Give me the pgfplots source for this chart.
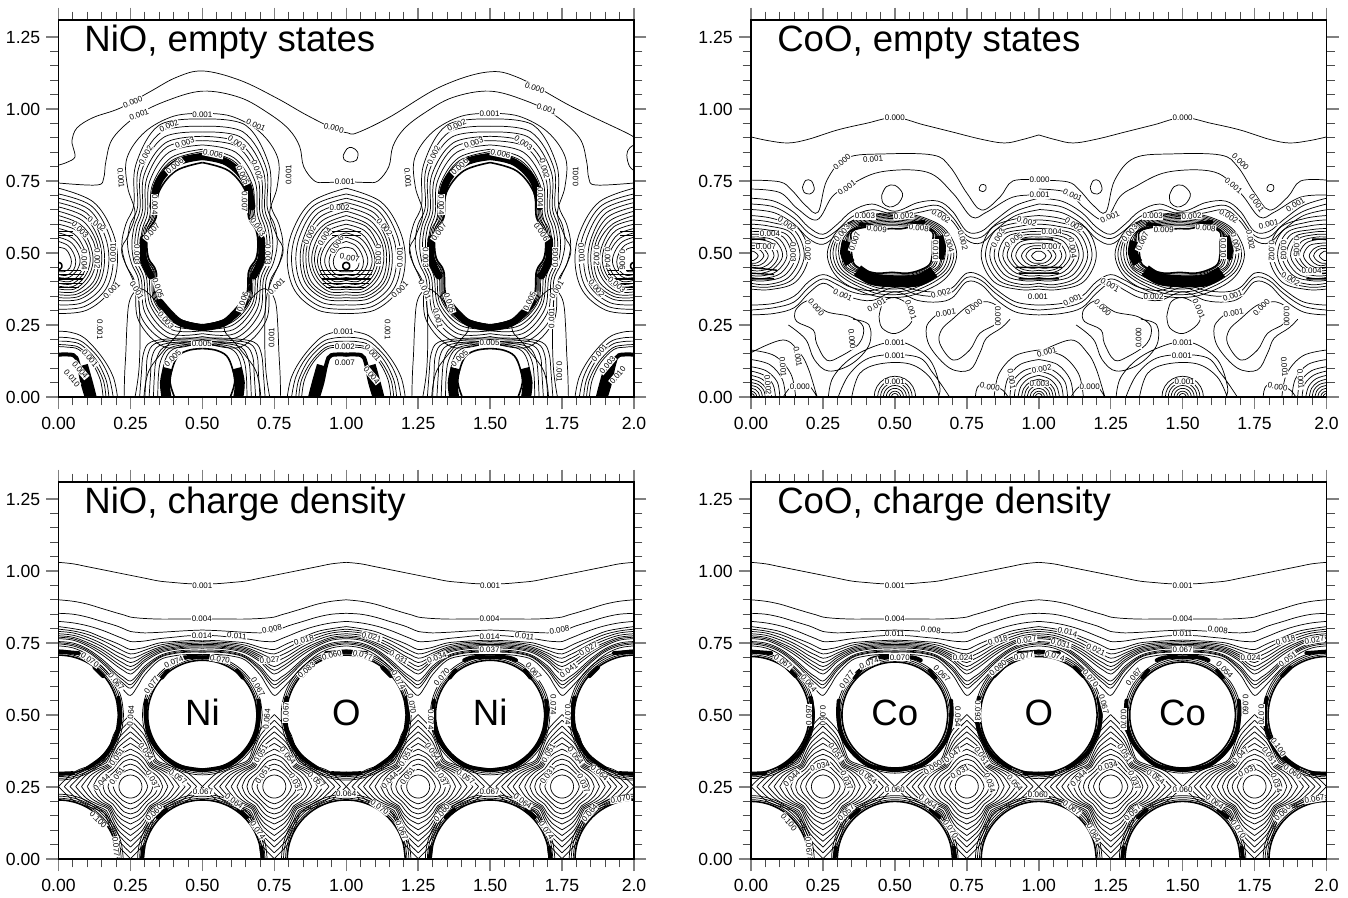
\documentclass[border=0pt]{standalone}
\usepackage{pgfplots}
\usepackage{pgfplotstable}
\usepackage{fontspec}
\setmainfont{Liberation Sans}
\pgfplotsset{compat=1.18}
\pgfplotsset{unbounded coords=jump}
% ---------------- shared tables
\pgfplotstableread{
c s
1 0
0.966 0.259
0.866 0.5
0.707 0.707
0.5 0.866
0.259 0.966
0 1
-0.259 0.966
-0.5 0.866
-0.707 0.707
-0.866 0.5
-0.966 0.259
-1 0
-0.966 -0.259
-0.866 -0.5
-0.707 -0.707
-0.5 -0.866
-0.259 -0.966
0 -1
0.259 -0.966
0.5 -0.866
0.707 -0.707
0.866 -0.5
0.966 -0.259
1 0
}\tU
% charge density: wave lines
\pgfplotstableread{
x w1 w2 w3 w4 w5 w6 w7 w8 w9 w10 w11 w12 w13 w14 w15
0 1.03 0.90 0.853 0.825 0.807 0.79 0.775 0.765 0.755 0.747 0.74 0.798 0.77 0.751 0.782
0.05 1.025 0.895 0.85 0.82 0.80 0.785 0.77 0.76 0.75 0.74 0.733 0.792 0.765 0.745 0.777
0.1 1.015 0.885 0.84 0.81 0.79 0.77 0.752 0.74 0.73 0.72 0.71 0.78 0.746 0.725 0.761
0.15 1.005 0.87 0.825 0.795 0.77 0.748 0.728 0.71 0.695 0.682 0.668 0.76 0.719 0.688 0.738
0.2 0.995 0.855 0.81 0.775 0.75 0.72 0.695 0.672 0.65 0.632 0.615 0.735 0.683 0.641 0.707
0.225 0.99 0.848 0.80 0.765 0.738 0.708 0.68 0.655 0.632 0.61 0.588 0.722 0.667 0.621 0.694
0.25 0.985 0.84 0.79 0.755 0.727 0.697 0.668 0.642 0.618 0.593 0.568 0.712 0.655 0.605 0.682
0.275 0.98 0.837 0.787 0.755 0.73 0.703 0.68 0.66 0.64 0.62 0.60 0.716 0.67 0.63 0.691
0.3 0.975 0.835 0.785 0.757 0.735 0.715 0.70 0.685 0.67 0.655 0.64 0.725 0.692 0.662 0.707
0.35 0.965 0.833 0.787 0.765 0.75 0.735 0.725 0.715 0.705 0.698 0.69 0.742 0.72 0.701 0.73
0.4 0.96 0.833 0.79 0.77 0.755 0.745 0.735 0.727 0.72 0.713 0.705 0.75 0.731 0.716 0.74
0.45 0.956 0.833 0.793 0.775 0.758 0.748 0.74 0.732 0.725 0.718 0.71 0.753 0.736 0.721 0.744
0.5 0.955 0.833 0.795 0.777 0.76 0.75 0.74 0.732 0.725 0.718 0.71 0.755 0.736 0.721 0.745
}\tW
% charge density: diamonds, one quadrant
\pgfplotstableread{
a r1 r2 r3 r4 r5 r6 r7 r8 r9 r10 r11 r12
0 0.04 0.06 0.078 0.095 0.112 0.13 0.15 0.17 0.19 0.21 0.23 0.25
15 0.04 0.057 0.074 0.09 0.104 0.118 0.132 0.145 0.158 0.17 0.185 0.20
30 0.04 0.055 0.068 0.08 0.093 0.105 0.113 0.12 0.127 0.135 0.142 0.15
45 0.04 0.054 0.066 0.076 0.086 0.095 0.10 0.105 0.11 0.118 0.124 0.13
60 0.04 0.055 0.068 0.08 0.093 0.105 0.113 0.12 0.127 0.135 0.142 0.15
75 0.04 0.057 0.074 0.09 0.104 0.118 0.132 0.145 0.158 0.17 0.185 0.20
90 0.04 0.06 0.078 0.095 0.112 0.13 0.15 0.17 0.19 0.21 0.23 0.25
}\tD
% bands in charge density panels (dx y about an atom column)
\pgfplotstableread{
x y
0 0.72
0.07 0.715
nan nan
0.125 0.665
0.155 0.635
nan nan
0.208 0.56
0.215 0.5
0.205 0.44
0.165 0.365
0.10 0.315
nan nan
0 0.296
0.05 0.298
}\tBO
\pgfplotstableread{
x y
0 0.70
0.06 0.70
0.09 0.69
nan nan
0.12 0.655
0.14 0.63
nan nan
0.195 0.55
0.197 0.5
0.185 0.43
0.15 0.375
0.09 0.325
0 0.308
}\tBM
\pgfplotstableread{
x y
0.21 0
0.205 0.04
nan nan
0.155 0.145
0.125 0.17
}\tBF
% -------- NiO empty
\pgfplotstableread{
a r1 r2 r3 r4 r5 r6 r7 r8 r9 r10 r11
-90 0.34 0.33 0.32 0.31 0.30 0.295 0.29 0.285 0.28 0.287 0.283
-70 0.38 0.36 0.345 0.33 0.315 0.30 0.29 0.28 0.27 0.285 0.275
-50 0.345 0.33 0.31 0.295 0.28 0.27 0.26 0.25 0.24 0.255 0.245
-30 0.27 0.255 0.245 0.235 0.225 0.215 0.205 0.195 0.188 0.20 0.192
-15 0.275 0.255 0.245 0.235 0.225 0.215 0.205 0.20 0.195 0.208 0.20
0 0.28 0.26 0.245 0.235 0.225 0.215 0.205 0.20 0.195 0.21 0.20
15 0.275 0.26 0.245 0.235 0.225 0.215 0.205 0.20 0.195 0.21 0.20
30 0.275 0.26 0.25 0.24 0.23 0.22 0.21 0.20 0.19 0.205 0.195
50 0.36 0.345 0.33 0.315 0.30 0.285 0.27 0.26 0.245 0.265 0.252
70 0.44 0.415 0.395 0.375 0.36 0.34 0.32 0.30 0.285 0.31 0.295
90 0.435 0.41 0.39 0.375 0.36 0.345 0.33 0.315 0.30 0.322 0.308
}\tNiA
\pgfplotstableread{
a r1
-90 0.281
-70 0.271
-50 0.236
-30 0.186
-15 0.193
0 0.193
15 0.193
30 0.186
50 0.236
70 0.271
90 0.284
}\tNiAh
\pgfplotstableread{
a r1 r2 r3 r4 r5 r6 r7 r8 r9 r10 r11 r12 r13 r14
-90 0.18 0.165 0.15 0.135 0.125 0.115 0.105 0.095 0.085 0.075 0.065 0.055 0.045 0.035
-60 0.195 0.18 0.165 0.15 0.14 0.13 0.12 0.11 0.10 0.09 0.08 0.065 0.055 0.04
-30 0.205 0.19 0.175 0.16 0.15 0.14 0.125 0.115 0.105 0.095 0.085 0.07 0.06 0.045
0 0.205 0.19 0.175 0.16 0.15 0.14 0.13 0.12 0.11 0.10 0.09 0.075 0.06 0.045
30 0.215 0.20 0.185 0.17 0.16 0.15 0.14 0.125 0.115 0.10 0.09 0.075 0.06 0.045
60 0.24 0.225 0.21 0.195 0.18 0.165 0.15 0.14 0.125 0.11 0.095 0.08 0.065 0.05
90 0.255 0.235 0.22 0.205 0.19 0.175 0.16 0.145 0.13 0.115 0.10 0.085 0.07 0.05
}\tOA
\pgfplotstableread{
x y
0 0.44
0.09 0.44
nan nan
0 0.425
0.09 0.425
nan nan
0 0.41
0.085 0.41
nan nan
0 0.395
0.08 0.395
nan nan
0 0.38
0.07 0.38
nan nan
0 0.575
0.05 0.575
nan nan
0 0.56
0.05 0.56
}\tHatA
\pgfplotstableread{
x y
0.234 0
0.22 0.1
0.217 0.25
0.228 0.37
0.28 0.5
0.258 0.56
0.234 0.639
0.26 0.73
0.262 0.83
0.2 0.92
0.1 0.975
0 0.985
nan nan
0.218 0
0.212 0.08
0.205 0.15
0.18 0.19
0.1 0.203
0 0.205
nan nan
0.20 0
0.195 0.08
0.19 0.145
0.165 0.185
0.09 0.197
0 0.198
nan nan
0.185 0
0.18 0.08
0.175 0.14
0.15 0.178
0.08 0.191
0 0.192
nan nan
0.17 0
0.167 0.07
0.16 0.13
0.135 0.172
0.075 0.186
0 0.188
nan nan
0.155 0
0.153 0.07
0.145 0.125
0.12 0.166
0.07 0.181
0 0.184
nan nan
0.14 0
0.14 0.06
0.132 0.12
0.11 0.16
0.065 0.177
0 0.18
}\tSA
\pgfplotstableread{
x y
0.097 0
0.112 0.05
0.104 0.10
0.084 0.143
0.045 0.163
0 0.168
}\tHA
\pgfplotstableread{
x y
0 0.835
0.085 0.815
0.15 0.75
0.172 0.66
nan nan
0.205 0.55
0.205 0.48
0.178 0.42
nan nan
0.148 0.33
0.08 0.26
0 0.241
}\tBandA
\pgfplotstableread{
x y
0.125 0
0.13 0.05
0.12 0.10
}\tFootA
\pgfplotstableread{
x y
0.272 0
0.27 0.08
0.266 0.153
0.262 0.25
0.255 0.326
0.235 0.365
0.203 0.372
0.14 0.31
0.075 0.243
0.12 0.18
0.179 0.104
0.197 0.05
0.203 0
}\tLensA
\pgfplotstableread{
x y
0.205 0
0.19 0.07
0.15 0.14
0.09 0.205
0.04 0.225
0 0.228
nan nan
0.19 0
0.175 0.07
0.14 0.135
0.085 0.19
0.04 0.205
0 0.207
nan nan
0.175 0
0.165 0.06
0.13 0.13
0.08 0.18
0.04 0.192
0 0.194
nan nan
0.165 0
0.155 0.06
0.122 0.122
0.075 0.17
0.035 0.18
0 0.182
nan nan
0.155 0
0.145 0.06
0.115 0.12
0.07 0.165
0.03 0.173
0 0.175
}\tOBotA
\pgfplotstableread{
x y
0.098 0
0.083 0.05
0.068 0.118
0.052 0.145
0 0.147
}\tOHoleA
\pgfplotstableread{
x y
0.115 0
0.102 0.05
0.085 0.11
}\tOFootA
\pgfplotstableread{
x y
0.0 0.743
0.133 0.736
0.157 0.76
0.165 0.82
0.19 0.90
0.276 0.979
0.38 1.03
0.502 1.062
0.63 1.04
0.73 0.985
0.80 0.93
0.838 0.87
0.852 0.80
0.89 0.75
0.93 0.745
1.0 0.748
}\tTopA
\pgfplotstableread{
x y
0 0.805
0.03 0.815
0.057 0.833
0.05 0.87
0.047 0.892
0.064 0.934
0.12 0.97
0.214 1.003
0.318 1.06
0.41 1.11
0.502 1.132
0.63 1.10
0.758 1.038
0.86 0.98
0.96 0.93
1.005 0.917
1.037 0.917
1.151 0.972
1.325 1.076
1.488 1.128
1.6 1.108
1.786 1.007
1.974 0.917
2 0.90
nan nan
0.99 0.84
1.003 0.862
1.02 0.866
1.04 0.85
1.035 0.822
1.01 0.816
0.992 0.825
0.99 0.84
nan nan
2.01 0.88
1.985 0.865
1.975 0.84
1.985 0.80
2.01 0.78
}\tZeroA
% -------- CoO empty
\pgfplotstableread{
x t1 t2 t3 b1 b2 b3
0 0.69 0.67 0.651 0.285 0.302 0.319
0.08 0.68 0.66 0.64 0.29 0.31 0.325
0.15 0.64 0.62 0.60 0.31 0.33 0.35
0.2 0.59 0.57 0.55 0.36 0.38 0.40
0.25 0.565 0.55 0.53 0.395 0.41 0.425
0.3 0.60 0.58 0.565 0.37 0.39 0.405
0.35 0.645 0.625 0.61 0.345 0.365 0.38
0.42 0.67 0.65 0.635 0.335 0.355 0.37
0.5 0.645 0.635 0.625 0.365 0.38 0.39
0.58 0.675 0.655 0.64 0.335 0.355 0.37
0.65 0.68 0.665 0.65 0.33 0.35 0.365
0.7 0.645 0.625 0.61 0.345 0.365 0.38
0.75 0.575 0.56 0.545 0.40 0.415 0.43
0.8 0.575 0.555 0.535 0.39 0.405 0.42
0.85 0.615 0.60 0.58 0.34 0.36 0.375
0.92 0.665 0.645 0.63 0.295 0.315 0.33
1 0.69 0.67 0.65 0.285 0.302 0.319
}\tWB
\pgfplotstableread{
a r1 r2 r3 r4 r5 r6 r7 r8 r9 r10
-90 0.15 0.14 0.13 0.12 0.11 0.10 0.09 0.08 0.075 0.068
-70 0.155 0.145 0.135 0.125 0.115 0.105 0.095 0.085 0.08 0.072
-50 0.168 0.155 0.145 0.135 0.125 0.115 0.108 0.10 0.095 0.09
-30 0.195 0.18 0.17 0.16 0.15 0.14 0.13 0.125 0.12 0.115
-15 0.215 0.205 0.195 0.185 0.175 0.17 0.165 0.155 0.148 0.14
0 0.225 0.215 0.205 0.195 0.185 0.175 0.17 0.16 0.155 0.15
15 0.215 0.207 0.20 0.193 0.186 0.179 0.172 0.165 0.16 0.155
30 0.198 0.192 0.186 0.18 0.174 0.168 0.165 0.165 0.165 0.165
50 0.168 0.163 0.158 0.153 0.148 0.143 0.138 0.133 0.128 0.128
70 0.15 0.145 0.14 0.135 0.13 0.125 0.12 0.115 0.11 0.105
90 0.145 0.14 0.135 0.13 0.125 0.12 0.115 0.11 0.105 0.10
}\tCoB
\pgfplotstableread{
a r1
-90 0.062
-70 0.068
-50 0.085
-30 0.11
-15 0.135
0 0.14
15 0.145
30 0.16
50 0.125
70 0.095
90 0.09
}\tCoBh
\pgfplotstableread{
a r1 r2 r3 r4 r5 r6 r7 r8 r9 r10 r11 r12
-90 0.115 0.105 0.095 0.085 0.075 0.068 0.06 0.05 0.04 0.03 0.025 0.016
-60 0.135 0.125 0.115 0.10 0.09 0.08 0.07 0.06 0.05 0.04 0.03 0.018
-30 0.18 0.165 0.15 0.135 0.12 0.105 0.09 0.08 0.065 0.05 0.036 0.02
0 0.20 0.185 0.17 0.155 0.14 0.125 0.11 0.095 0.08 0.06 0.045 0.025
30 0.19 0.175 0.16 0.145 0.13 0.115 0.10 0.085 0.07 0.05 0.038 0.02
60 0.15 0.135 0.12 0.105 0.095 0.085 0.075 0.065 0.05 0.04 0.03 0.018
90 0.14 0.125 0.11 0.095 0.085 0.075 0.065 0.055 0.045 0.035 0.025 0.016
}\tOB
\pgfplotstableread{
a r1 r2 r3 r4 r5 r6 r7 r8 r9 r10 r11
0 0.155 0.12 0.10 0.085 0.072 0.06 0.05 0.04 0.03 0.02 0.012
30 0.16 0.125 0.105 0.088 0.072 0.06 0.05 0.04 0.03 0.02 0.012
60 0.165 0.13 0.105 0.088 0.073 0.06 0.05 0.04 0.03 0.02 0.012
90 0.163 0.13 0.105 0.09 0.075 0.062 0.05 0.04 0.03 0.02 0.012
}\tCB
\pgfplotstableread{
x y
0 0.903
0.06 0.89
0.13 0.882
0.2 0.895
0.3 0.927
0.4 0.95
0.5 0.97
0.6 0.945
0.7 0.92
0.8 0.895
0.88 0.882
0.94 0.893
1 0.91
}\tZB
\pgfplotstableread{
x y
0 0.753
0.1 0.747
0.14 0.72
0.19 0.665
0.233 0.642
0.264 0.753
0.333 0.83
0.465 0.844
0.632 0.84
0.691 0.80
0.75 0.708
0.802 0.649
0.865 0.694
0.91 0.75
1.0 0.753
nan nan
0 0.722
0.1 0.71
0.16 0.655
0.229 0.615
0.281 0.694
0.333 0.729
0.448 0.781
0.611 0.781
0.701 0.708
0.767 0.625
0.819 0.642
0.91 0.694
1.0 0.701
nan nan
0.454 0.70
0.47 0.73
0.50 0.735
0.527 0.705
0.51 0.67
0.48 0.66
0.458 0.675
0.454 0.70
nan nan
0.179 0.728
0.19 0.752
0.21 0.75
0.22 0.72
0.205 0.705
0.185 0.71
0.179 0.728
nan nan
0.793 0.725
0.80 0.737
0.815 0.735
0.816 0.72
0.805 0.713
0.795 0.717
0.793 0.725
nan nan
0.17 0.319
0.205 0.334
0.263 0.296
0.344 0.279
0.39 0.244
0.376 0.186
0.309 0.14
0.263 0.128
0.228 0.186
0.216 0.233
0.159 0.262
0.153 0.296
0.17 0.319
nan nan
0.818 0.331
0.76 0.319
0.70 0.27
0.662 0.233
0.656 0.186
0.703 0.128
0.76 0.163
0.795 0.221
0.853 0.256
0.865 0.302
0.841 0.325
0.818 0.331
nan nan
0.445 0.28
0.455 0.24
0.5 0.22
0.55 0.25
0.565 0.29
0.55 0.32
0.5 0.345
0.46 0.33
0.445 0.28
nan nan
0.269 0
0.286 0.07
0.355 0.14
0.46 0.186
0.54 0.186
0.622 0.128
0.656 0.036
0.65 0
nan nan
0.303 0
0.344 0.082
0.425 0.14
0.575 0.14
0.633 0.082
0.69 0
nan nan
0.35 0
0.378 0.082
0.448 0.115
0.55 0.115
0.62 0.07
0.655 0
nan nan
0.645 0.285
0.61 0.244
0.622 0.175
0.691 0.10
0.76 0.094
0.795 0.152
0.818 0.204
0.87 0.24
0.90 0.27
nan nan
0.355 0.27
0.41 0.25
0.41 0.18
0.35 0.115
0.27 0.09
0.22 0.13
0.19 0.20
0.13 0.25
nan nan
0 0.154
0.112 0.198
0.17 0.152
0.199 0.099
0.226 0.013
0.23 0
nan nan
0.112 0
0.141 0.036
0.193 0.045
0.222 0.013
0.228 0
nan nan
0.78 0
0.795 0.042
0.865 0.03
0.893 0
}\tLB
\pgfplotstableread{
x y
0.37 0.44
0.42 0.41
0.49 0.402
0.58 0.405
0.635 0.435
}\tBandBa
\pgfplotstableread{
x y
0.335 0.54
0.327 0.50
0.345 0.465
nan nan
0.655 0.56
0.66 0.52
0.652 0.48
}\tBandBb
\pgfplotstableread{
x y
0.38 0.60
0.42 0.595
nan nan
0.55 0.60
0.60 0.608
}\tBandB
\pgfplotstableread{
x y
0 0.548
0.05 0.548
nan nan
0 0.45
0.09 0.44
nan nan
0 0.43
0.08 0.425
nan nan
0 0.41
0.08 0.41
nan nan
0.93 0.548
1.05 0.548
nan nan
0.92 0.45
1.08 0.45
nan nan
0.93 0.43
1.07 0.43
nan nan
0.93 0.41
1.07 0.41
nan nan
1.95 0.548
2 0.548
nan nan
1.92 0.44
2 0.45
nan nan
1.93 0.425
2 0.43
nan nan
1.93 0.41
2 0.41
}\tHatB
% ---------------- styles and helpers
\pgfplotsset{
 pan/.style={scale only axis,width=287.75pt,height=188.5pt,
  anchor=south west,xmin=0,xmax=2,ymin=0,ymax=1.309,
  axis on top,
  xtick={0,0.25,0.5,0.75,1,1.25,1.5,1.75,2},ytick={0,0.25,0.5,0.75,1,1.25},
  xticklabels={0.00,0.25,0.50,0.75,1.00,1.25,1.50,1.75,2.0},
  yticklabels={0.00,0.25,0.50,0.75,1.00,1.25},
  minor tick num=4,tick align=outside,
  major tick length=6.2pt,minor tick length=4.2pt,
  every major tick/.append style={line width=0.75pt},
  every minor tick/.append style={line width=0.4pt,black!70},
  axis line style={line width=0.55pt},
  ticklabel style={font=\fontsize{8.8}{10}\selectfont},
  xticklabel shift=0.6pt,yticklabel shift=-0.6pt,
 },
 c/.style={black,line width=0.36pt,smooth,tension=0.6},
 h/.style={black,line width=0.8pt,smooth,tension=0.6},
 band/.style={black,line width=2pt,smooth,tension=0.6,line cap=round},
 bandA/.style={black,line width=3.6pt,smooth,tension=0.6,line cap=round},
 foot/.style={black,line width=5pt,smooth,tension=0.6},
 hatch/.style={black,line width=0.7pt},
}
\tikzset{lb/.style={fill=white,inner sep=0.3pt,font=\fontsize{4}{4}\selectfont,text=black},
 ttl/.style={anchor=base west,font=\fontsize{18.3}{20}\selectfont,inner sep=0pt},
 atom/.style={anchor=base,font=\fontsize{18.3}{20}\selectfont,inner sep=0pt}}
\newcommand\lb[4]{\node[lb,rotate=#3] at (axis cs:#1,#2){#4};}
% polar family: table, cx, cy, sign x, sign y, n, style
\newcommand\pol[7]{\pgfplotsinvokeforeach{1,...,#6}{%
 \addplot[#7] table[x expr={#2+(#4)*\thisrowno{##1}*cos(\thisrowno{0})},y expr={#3+(#5)*\thisrowno{##1}*sin(\thisrowno{0})}]{#1};}}
\newcommand\polm[5]{\pol{#1}{#2}{#3}{1}{1}{#4}{#5}\pol{#1}{#2}{#3}{-1}{1}{#4}{#5}}
\newcommand\ring[4]{\addplot[#4] table[x expr={#1+(#3)*\thisrow{c}},y expr={#2+(#3)*\thisrow{s}}]{\tU};}
\newcommand\sh[3]{\addplot[#3] table[x expr={#2+\thisrowno{0}},y index=1]{#1};}
\newcommand\mi[3]{\addplot[#3] table[x expr={#2-\thisrowno{0}},y index=1]{#1};}
\newcommand\both[3]{\sh{#1}{#2}{#3}\mi{#1}{#2}{#3}}
\newcommand\wavek[1]{\pgfplotsinvokeforeach{1,...,15}{%
 \addplot[c] table[x expr={#1\thisrowno{0}},y index=##1]{\tW};}}
\newcommand\dia[1]{\pol{\tD}{#1}{0.2515}{1}{1}{12}{c}\pol{\tD}{#1}{0.2515}{-1}{1}{12}{c}\pol{\tD}{#1}{0.2515}{1}{-1}{12}{c}\pol{\tD}{#1}{0.2515}{-1}{-1}{12}{c}}
% parts of panels
\newcommand\NiPart[1]{\both{\tBandA}{#1}{bandA}\both{\tFootA}{#1}{foot}%
 \polm{\tNiA}{#1}{0.53}{11}{c}\polm{\tNiAh}{#1}{0.53}{1}{h}%
 \both{\tSA}{#1}{c}\both{\tHA}{#1}{h}\both{\tLensA}{#1}{c}}
\newcommand\CoPart[1]{\sh{\tLB}{#1}{c}%
 \pgfplotsinvokeforeach{1,...,6}{\addplot[c] table[x expr={#1+\thisrowno{0}},y index=##1]{\tWB};}%
 \sh{\tBandBa}{#1}{black,line width=6pt,smooth,tension=0.6}\sh{\tBandBb}{#1}{black,line width=5pt,smooth,tension=0.6}\sh{\tBandB}{#1}{band}%
 \polm{\tCoB}{#1+0.49}{0.495}{10}{c}\polm{\tCoBh}{#1+0.49}{0.495}{1}{h}}
\newcommand\HalfRings[1]{\ring{#1}{0}{0.072}{c}\ring{#1}{0}{0.06}{c}\ring{#1}{0}{0.05}{c}\ring{#1}{0}{0.04}{c}\ring{#1}{0}{0.03}{c}\ring{#1}{0}{0.02}{c}\ring{#1}{0}{0.012}{c}}
\newcommand\OPartA[1]{\both{\tOBotA}{#1}{c}\both{\tOFootA}{#1}{foot}\both{\tOHoleA}{#1}{band}\both{\tHatA}{#1}{hatch}}
% charge panel: center, radius at y=.5, radius at y=0
\newcommand\atomcol[4]{\ring{#1}{0.5}{#2}{h}\ring{#1}{0.5}{#2+0.006}{c}\ring{#1}{0.5}{#2+0.012}{c}\ring{#1}{0.5}{#2+0.018}{c}%
 \ring{#1}{0}{#3}{h}\ring{#1}{0}{#3+0.006}{c}\ring{#1}{0}{#3+0.013}{c}\ring{#1}{0}{#3+0.02}{c}\both{#4}{#1}{band}}
\newcommand\charge[3]{%
 \wavek{}\wavek{1-}\wavek{1+}\wavek{2-}%
 \dia{0.25}\dia{0.75}\dia{1.25}\dia{1.75}%
 \atomcol{0}{#1}{#3}{\tBO}\atomcol{1}{#1}{#3}{\tBO}\atomcol{2}{#1}{#3}{\tBO}%
 \atomcol{0.5}{#2}{#3}{\tBM}\atomcol{1.5}{#2}{#3}{\tBM}%
 \both{\tBF}{0.5}{band}\both{\tBF}{1.5}{band}%
}
\begin{document}
\begin{tikzpicture}
\useasboundingbox (0,0) rectangle (674pt,449pt);
% ===================== NiO empty states
\begin{axis}[pan,at={(29.25pt,250.5pt)}]
\sh{\tZeroA}{0}{c}
\sh{\tTopA}{0}{c}\mi{\tTopA}{2}{c}
\NiPart{0.5}\NiPart{1.5}
\pol{\tOA}{0}{0.47}{1}{1}{14}{c}\polm{\tOA}{1}{0.47}{14}{c}\pol{\tOA}{2}{0.47}{-1}{1}{14}{c}
\ring{1}{0.455}{0.012}{h}\ring{0}{0.455}{0.012}{h}\ring{2}{0.455}{0.012}{h}
\OPartA{0}\OPartA{1}\OPartA{2}
\node[ttl] at (axis cs:0.0885,1.198){NiO, empty states};
\lb{0.258}{1.024}{20}{0.000}\lb{0.28}{0.98}{20}{0.001}\lb{0.50}{0.98}{0}{0.001}\lb{0.686}{0.944}{-25}{0.001}\lb{0.957}{0.934}{-15}{0.000}
\lb{0.384}{0.941}{25}{0.002}\lb{0.439}{0.882}{20}{0.003}\lb{0.62}{0.882}{-35}{0.003}\lb{0.537}{0.844}{-12}{0.006}\lb{0.404}{0.802}{40}{0.006}
\lb{0.303}{0.84}{60}{0.002}\lb{0.641}{0.771}{-65}{0.005}\lb{0.69}{0.788}{-70}{0.002}\lb{0.80}{0.771}{90}{0.001}\lb{0.217}{0.76}{-85}{0.001}
\lb{0.995}{0.747}{0}{0.001}\lb{0.335}{0.667}{-90}{0.004}\lb{0.647}{0.677}{-90}{0.007}\lb{0.977}{0.656}{0}{0.002}\lb{0.133}{0.60}{-35}{0.002}
\lb{0.075}{0.58}{-45}{0.003}\lb{0.324}{0.573}{50}{0.007}\lb{0.693}{0.59}{-55}{0.003}\lb{0.873}{0.5625}{65}{0.002}\lb{0.925}{0.556}{60}{0.004}
\lb{0.967}{0.528}{60}{0.006}\lb{1.012}{0.483}{-10}{0.007}\lb{0.19}{0.50}{90}{0.001}\lb{0.135}{0.48}{-90}{0.002}\lb{0.09}{0.476}{-90}{0.004}
\lb{1.818}{0.50}{-85}{0.001}\lb{1.87}{0.49}{-90}{0.002}\lb{1.908}{0.483}{-90}{0.004}\lb{1.96}{0.476}{-90}{0.006}
\lb{0.273}{0.493}{-90}{0.003}\lb{0.728}{0.493}{-90}{0.003}\lb{0.346}{0.378}{-70}{0.005}\lb{0.64}{0.33}{70}{0.006}\lb{0.185}{0.37}{45}{0.001}
\lb{0.272}{0.37}{-60}{0.001}\lb{0.758}{0.383}{45}{0.001}\lb{0.373}{0.267}{-50}{0.003}\lb{0.144}{0.233}{-90}{0.001}\lb{0.741}{0.205}{90}{0.001}
\lb{0.991}{0.226}{0}{0.001}\lb{0.498}{0.184}{0}{0.005}\lb{0.995}{0.174}{0}{0.002}\lb{0.995}{0.118}{0}{0.007}\lb{0.397}{0.135}{45}{0.005}
\lb{0.109}{0.135}{-50}{0.001}\lb{0.075}{0.094}{-50}{0.004}\lb{0.047}{0.066}{-50}{0.010}
\lb{1.655}{1.073}{-20}{0.000}\lb{1.696}{1.0}{-20}{0.001}\lb{1.498}{0.983}{0}{0.001}\lb{1.384}{0.944}{25}{0.002}\lb{1.443}{0.882}{20}{0.003}
\lb{1.616}{0.882}{-35}{0.003}\lb{1.536}{0.844}{-12}{0.006}\lb{1.394}{0.799}{45}{0.006}\lb{1.304}{0.84}{65}{0.002}\lb{1.689}{0.792}{-75}{0.002}
\lb{1.675}{0.694}{-90}{0.004}\lb{1.331}{0.667}{-90}{0.004}\lb{1.214}{0.76}{-85}{0.001}\lb{1.797}{0.764}{90}{0.001}\lb{1.322}{0.573}{55}{0.007}
\lb{1.678}{0.573}{-55}{0.006}\lb{1.276}{0.483}{-90}{0.003}\lb{1.727}{0.483}{90}{0.003}\lb{1.186}{0.486}{90}{0.001}\lb{1.112}{0.493}{-90}{0.003}
\lb{1.133}{0.59}{-50}{0.002}\lb{1.186}{0.372}{45}{0.001}\lb{1.273}{0.372}{-65}{0.001}\lb{1.731}{0.372}{60}{0.001}\lb{1.359}{0.326}{-70}{0.005}
\lb{1.637}{0.333}{65}{0.005}\lb{1.318}{0.274}{-75}{0.001}\lb{1.714}{0.274}{90}{0.001}\lb{1.144}{0.233}{-90}{0.001}\lb{1.498}{0.187}{0}{0.005}
\lb{1.394}{0.135}{45}{0.005}\lb{1.741}{0.087}{-90}{0.001}\lb{1.092}{0.153}{-50}{0.001}\lb{1.088}{0.076}{-50}{0.004}\lb{1.88}{0.153}{50}{0.001}
\lb{1.908}{0.111}{50}{0.003}\lb{1.943}{0.076}{50}{0.010}\lb{1.87}{0.378}{-50}{0.002}\lb{1.94}{0.389}{-40}{0.003}
\end{axis}
% ===================== CoO empty states
\begin{axis}[pan,at={(375.5pt,250.5pt)}]
\sh{\tZB}{0}{c}\mi{\tZB}{2}{c}
\CoPart{0}\CoPart{1}
\sh{\tHatB}{0}{hatch}
\pol{\tOB}{0}{0.49}{1}{1}{12}{c}\polm{\tOB}{1}{0.49}{12}{c}\pol{\tOB}{2}{0.49}{-1}{1}{12}{c}
\pol{\tCB}{0}{0}{1}{1}{11}{c}\polm{\tCB}{1}{0}{11}{c}\pol{\tCB}{2}{0}{-1}{1}{11}{c}
\HalfRings{0.5}\HalfRings{1.5}
\node[ttl] at (axis cs:0.09,1.198){CoO, empty states};
\lb{0.50}{0.969}{0}{0.000}\lb{1.50}{0.969}{0}{0.000}\lb{0.316}{0.816}{40}{0.000}\lb{0.424}{0.826}{5}{0.001}\lb{0.333}{0.726}{35}{0.001}
\lb{1.003}{0.753}{0}{0.000}\lb{1.003}{0.701}{0}{0.001}\lb{0.125}{0.60}{-35}{0.002}\lb{0.066}{0.566}{0}{0.004}\lb{0.052}{0.521}{0}{0.007}
\lb{0.146}{0.503}{-90}{0.003}\lb{0.198}{0.507}{-90}{0.002}\lb{0.396}{0.628}{0}{0.003}\lb{0.531}{0.628}{5}{0.002}\lb{0.66}{0.628}{-30}{0.002}
\lb{0.316}{0.569}{50}{0.003}\lb{0.36}{0.54}{70}{0.007}\lb{0.437}{0.583}{-5}{0.009}\lb{0.583}{0.587}{-5}{0.008}\lb{0.642}{0.51}{-90}{0.010}
\lb{0.688}{0.535}{-75}{0.004}\lb{0.736}{0.545}{-75}{0.002}\lb{0.958}{0.608}{-15}{0.002}\lb{0.858}{0.552}{60}{0.003}\lb{0.913}{0.545}{35}{0.005}
\lb{1.045}{0.573}{0}{0.004}\lb{1.045}{0.521}{0}{0.007}\lb{0.997}{0.347}{0}{0.001}\lb{0.319}{0.354}{-25}{0.001}\lb{0.66}{0.361}{15}{0.002}
\lb{0.437}{0.319}{30}{0.001}\lb{0.556}{0.302}{-70}{0.001}\lb{0.677}{0.292}{10}{0.001}\lb{0.226}{0.312}{-50}{0.000}\lb{0.774}{0.312}{40}{0.000}
\lb{0.858}{0.281}{-90}{0.000}\lb{0.351}{0.201}{-85}{0.000}\lb{0.50}{0.187}{0}{0.001}\lb{0.50}{0.142}{0}{0.001}\lb{0.163}{0.139}{-80}{0.001}
\lb{0.111}{0.104}{-85}{0.001}\lb{0.059}{0.042}{-85}{0.002}\lb{0.17}{0.035}{0}{0.000}\lb{0.83}{0.035}{-10}{0.000}\lb{0.50}{0.052}{0}{0.001}
\lb{1.028}{0.156}{15}{0.001}\lb{1.01}{0.097}{10}{0.002}\lb{1.003}{0.045}{0}{0.003}\lb{0.906}{0.062}{-80}{0.001}
\lb{1.701}{0.816}{-45}{0.000}\lb{1.677}{0.733}{-40}{0.001}\lb{1.757}{0.674}{-55}{0.001}\lb{1.892}{0.667}{30}{0.001}\lb{1.799}{0.60}{15}{0.001}
\lb{1.118}{0.701}{-25}{0.001}\lb{1.247}{0.625}{25}{0.001}\lb{1.396}{0.628}{0}{0.003}\lb{1.531}{0.628}{5}{0.002}\lb{1.66}{0.628}{-30}{0.002}
\lb{1.122}{0.597}{-35}{0.002}\lb{1.118}{0.517}{-80}{0.004}\lb{1.316}{0.569}{50}{0.003}\lb{1.36}{0.54}{65}{0.007}
\lb{1.434}{0.58}{-3}{0.009}\lb{1.58}{0.587}{-5}{0.008}\lb{1.642}{0.517}{-90}{0.010}\lb{1.684}{0.535}{-75}{0.004}\lb{1.736}{0.545}{-80}{0.002}
\lb{1.809}{0.507}{-90}{0.002}\lb{1.851}{0.51}{-90}{0.003}\lb{1.896}{0.521}{-90}{0.005}\lb{1.948}{0.437}{0}{0.004}\lb{1.875}{0.41}{-30}{0.002}
\lb{1.247}{0.389}{-30}{0.001}\lb{1.399}{0.347}{0}{0.002}\lb{1.674}{0.351}{20}{0.001}\lb{1.118}{0.337}{25}{0.001}\lb{1.556}{0.306}{-65}{0.001}
\lb{1.677}{0.292}{10}{0.001}\lb{1.774}{0.312}{45}{0.000}\lb{1.222}{0.309}{-45}{0.000}\lb{1.861}{0.281}{-90}{0.000}\lb{1.347}{0.205}{90}{0.000}
\lb{1.50}{0.187}{0}{0.001}\lb{1.497}{0.142}{0}{0.001}\lb{1.507}{0.052}{0}{0.001}\lb{1.177}{0.035}{0}{0.000}\lb{1.83}{0.035}{-10}{0.000}
\lb{1.854}{0.104}{-85}{0.001}\lb{1.91}{0.062}{-85}{0.001}
\end{axis}
% ===================== NiO charge
\begin{axis}[pan,at={(29.25pt,19.5pt)}]
\charge{0.208}{0.19}{0.205}
\node[ttl] at (axis cs:0.0885,1.198){NiO, charge density};
\node[atom] at (axis cs:0.5,0.465){Ni};\node[atom] at (axis cs:1,0.465){O};\node[atom] at (axis cs:1.5,0.465){Ni};
\lb{0.50}{0.95}{0}{0.001}\lb{1.50}{0.95}{0}{0.001}
\lb{0.498}{0.833}{0}{0.004}\lb{0.498}{0.774}{0}{0.014}\lb{0.62}{0.774}{-5}{0.011}\lb{0.742}{0.799}{10}{0.008}\lb{0.853}{0.76}{15}{0.018}
\lb{0.109}{0.691}{-35}{0.070}\lb{0.2}{0.615}{-50}{0.067}\lb{0.401}{0.684}{25}{0.074}\lb{0.561}{0.694}{-10}{0.070}\lb{0.324}{0.604}{55}{0.077}
\lb{0.734}{0.691}{5}{0.027}\lb{0.693}{0.597}{-60}{0.067}\lb{0.862}{0.656}{40}{0.083}\lb{0.95}{0.708}{15}{0.060}\lb{0.251}{0.497}{85}{0.064}
\lb{0.724}{0.486}{85}{0.064}\lb{0.79}{0.51}{90}{0.067}\lb{0.203}{0.354}{55}{0.051}\lb{0.304}{0.372}{-55}{0.054}\lb{0.703}{0.365}{60}{0.051}
\lb{0.797}{0.358}{-50}{0.054}\lb{0.203}{0.288}{55}{0.051}\lb{0.328}{0.274}{-60}{0.037}\lb{0.415}{0.285}{-35}{0.057}\lb{0.15}{0.267}{45}{0.044}
\lb{0.502}{0.233}{0}{0.067}\lb{0.71}{0.292}{55}{0.051}\lb{0.825}{0.264}{-60}{0.037}\lb{0.897}{0.274}{-40}{0.057}\lb{1.0}{0.226}{0}{0.064}
\lb{0.61}{0.20}{-35}{0.064}\lb{0.332}{0.16}{45}{0.060}\lb{0.138}{0.135}{-45}{0.100}\lb{0.693}{0.10}{-55}{0.074}\lb{0.2}{0.042}{-85}{0.077}
\lb{1.498}{0.833}{0}{0.004}\lb{1.498}{0.772}{0}{0.014}\lb{1.62}{0.774}{-8}{0.011}\lb{1.741}{0.795}{10}{0.008}\lb{1.088}{0.771}{-15}{0.021}
\lb{1.057}{0.708}{-15}{0.077}\lb{1.182}{0.70}{-30}{0.031}\lb{1.315}{0.70}{20}{0.034}\lb{1.498}{0.726}{0}{0.037}\lb{1.842}{0.729}{30}{0.027}
\lb{1.773}{0.656}{35}{0.041}\lb{1.651}{0.653}{-50}{0.067}\lb{1.182}{0.622}{-60}{0.074}\lb{1.332}{0.632}{50}{0.070}\lb{1.228}{0.538}{-80}{0.070}
\lb{1.294}{0.483}{-90}{0.074}\lb{1.72}{0.535}{-90}{0.074}\lb{1.77}{0.50}{-90}{0.074}\lb{1.207}{0.354}{60}{0.051}\lb{1.3}{0.372}{-55}{0.054}
\lb{1.703}{0.368}{60}{0.051}\lb{1.797}{0.358}{-50}{0.054}\lb{1.88}{0.299}{-40}{0.064}\lb{1.151}{0.274}{45}{0.044}\lb{1.213}{0.288}{55}{0.051}
\lb{1.332}{0.285}{-60}{0.037}\lb{1.415}{0.285}{-35}{0.057}\lb{1.70}{0.292}{55}{0.031}\lb{1.825}{0.264}{-65}{0.037}\lb{1.498}{0.233}{0}{0.067}
\lb{1.116}{0.18}{-35}{0.070}\lb{1.613}{0.20}{-35}{0.064}\lb{1.953}{0.208}{10}{0.070}\lb{1.332}{0.16}{50}{0.060}\lb{1.846}{0.16}{50}{0.064}
\lb{1.193}{0.10}{-65}{0.067}\lb{1.696}{0.10}{-55}{0.074}
\end{axis}
% ===================== CoO charge
\begin{axis}[pan,at={(375.5pt,19.5pt)}]
\charge{0.203}{0.184}{0.2}
\node[ttl] at (axis cs:0.09,1.198){CoO, charge density};
\node[atom] at (axis cs:0.5,0.465){Co};\node[atom] at (axis cs:1,0.465){O};\node[atom] at (axis cs:1.5,0.465){Co};
\lb{0.50}{0.95}{0}{0.001}\lb{1.50}{0.95}{0}{0.001}
\lb{0.50}{0.833}{0}{0.004}\lb{0.50}{0.781}{0}{0.011}\lb{0.625}{0.795}{-5}{0.008}\lb{0.858}{0.76}{15}{0.018}\lb{0.958}{0.76}{10}{0.027}
\lb{0.111}{0.684}{-35}{0.067}\lb{0.201}{0.611}{-50}{0.064}\lb{0.41}{0.68}{20}{0.074}\lb{0.517}{0.70}{0}{0.070}\lb{0.333}{0.622}{55}{0.077}
\lb{0.663}{0.642}{-45}{0.067}\lb{0.736}{0.70}{0}{0.024}\lb{0.858}{0.663}{40}{0.080}\lb{0.948}{0.705}{10}{0.077}\lb{0.201}{0.50}{90}{0.097}
\lb{0.25}{0.497}{-90}{0.060}\lb{0.719}{0.493}{-90}{0.054}\lb{0.788}{0.514}{-90}{0.093}\lb{0.295}{0.372}{-55}{0.051}\lb{0.701}{0.361}{40}{0.047}
\lb{0.802}{0.358}{-55}{0.051}\lb{0.632}{0.319}{35}{0.060}\lb{0.24}{0.323}{15}{0.034}\lb{0.333}{0.274}{-65}{0.037}\lb{0.406}{0.285}{-35}{0.054}
\lb{0.142}{0.281}{45}{0.044}\lb{0.726}{0.302}{30}{0.031}\lb{0.83}{0.264}{-70}{0.034}\lb{0.917}{0.264}{-50}{0.054}\lb{0.50}{0.24}{0}{0.060}
\lb{0.997}{0.222}{0}{0.060}\lb{0.615}{0.198}{-35}{0.064}\lb{0.33}{0.16}{45}{0.057}\lb{0.694}{0.104}{-55}{0.070}\lb{0.132}{0.128}{-50}{0.100}
\lb{0.201}{0.042}{-85}{0.067}
\lb{1.50}{0.833}{0}{0.004}\lb{1.50}{0.781}{0}{0.011}\lb{1.622}{0.795}{-5}{0.008}\lb{1.10}{0.788}{-15}{0.014}\lb{1.076}{0.747}{-15}{0.031}
\lb{1.198}{0.726}{-25}{0.021}\lb{1.056}{0.705}{-15}{0.074}\lb{1.50}{0.726}{0}{0.067}\lb{1.858}{0.76}{15}{0.018}\lb{1.958}{0.76}{10}{0.027}
\lb{1.736}{0.70}{0}{0.024}\lb{1.865}{0.694}{35}{0.051}\lb{1.646}{0.656}{-45}{0.054}\lb{1.33}{0.632}{50}{0.067}\lb{1.18}{0.628}{-50}{0.070}
\lb{1.226}{0.538}{-75}{0.067}\lb{1.295}{0.486}{-90}{0.070}\lb{1.719}{0.535}{-90}{0.060}\lb{1.774}{0.50}{-90}{0.070}\lb{1.299}{0.368}{-55}{0.051}
\lb{1.701}{0.361}{45}{0.047}\lb{1.802}{0.358}{-55}{0.051}\lb{1.833}{0.389}{-55}{0.100}\lb{1.24}{0.323}{15}{0.034}\lb{1.139}{0.281}{45}{0.044}
\lb{1.333}{0.274}{-65}{0.037}\lb{1.406}{0.285}{-35}{0.054}\lb{1.726}{0.306}{25}{0.031}\lb{1.826}{0.264}{-70}{0.034}\lb{1.882}{0.302}{-35}{0.060}
\lb{1.5}{0.24}{0}{0.060}\lb{1.958}{0.208}{10}{0.067}\lb{1.115}{0.177}{-35}{0.067}\lb{1.611}{0.198}{-35}{0.064}\lb{1.847}{0.16}{45}{0.060}
\lb{1.326}{0.16}{45}{0.057}\lb{1.191}{0.09}{-60}{0.064}\lb{1.694}{0.104}{-55}{0.070}
\end{axis}
\end{tikzpicture}
\end{document}
